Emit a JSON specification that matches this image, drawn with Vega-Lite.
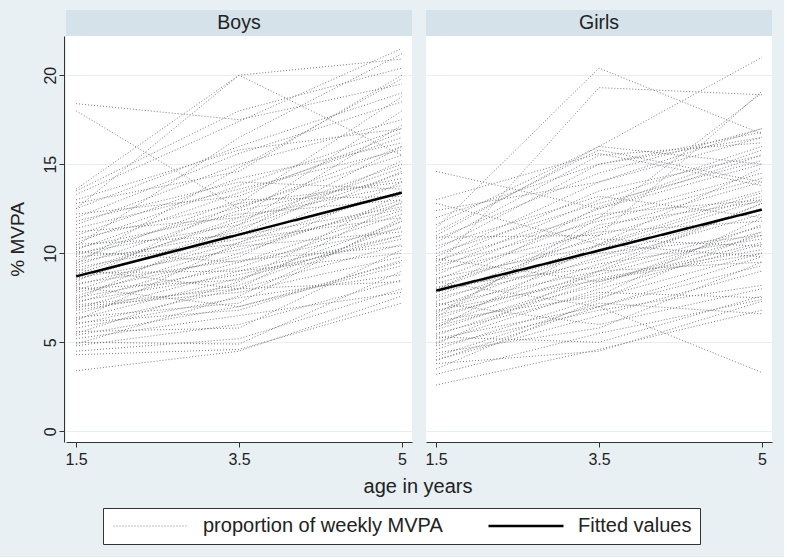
{
  "$schema": "https://vega.github.io/schema/vega-lite/v6.json",
  "background": "#E9F0F3",
  "padding": {"left": 8, "top": 10, "right": 12, "bottom": 12},
  "config": {
    "font": "Liberation Sans",
    "view": {"fill": "white", "stroke": null},
    "facet": {"spacing": 12},
    "axis": {"labelFont": "Liberation Sans", "titleFont": "Liberation Sans", "labelColor": "#222", "titleColor": "#222", "domainColor": "#333", "tickColor": "#333", "labelFontSize": 16, "titleFontSize": 19, "titleFontWeight": "normal", "tickSize": 5},
    "legend": {"orient": "none", "legendX": 37, "legendY": 472, "direction": "horizontal", "symbolType": "M-1,0H9", "symbolSize": 225, "labelFontSize": 20, "labelLimit": 0, "labelColor": "#222", "labelFont": "Liberation Sans", "fillColor": "white", "strokeColor": "#333", "padding": 8, "columnPadding": 40, "labelOffset": 72}
  },
  "data": {"values": [
    {"s":"Boys","h":1},{"s":"Girls","h":1},
    {"s":"Boys","f":1,"t":1.5,"v":8.7},{"s":"Boys","f":1,"t":3.5,"v":11.05},{"s":"Boys","f":1,"t":5,"v":13.4},
    {"s":"Girls","f":1,"t":1.5,"v":7.9},{"s":"Girls","f":1,"t":3.5,"v":10.15},{"s":"Girls","f":1,"t":5,"v":12.45},
    {"s":"Boys","i":1,"t":1.5,"v":3.4},{"s":"Boys","i":1,"t":3.5,"v":4.5},{"s":"Boys","i":1,"t":5,"v":7.6},
    {"s":"Boys","i":2,"t":1.5,"v":4.3},{"s":"Boys","i":2,"t":3.5,"v":4.6},{"s":"Boys","i":2,"t":5,"v":7.2},
    {"s":"Boys","i":3,"t":1.5,"v":4.5},{"s":"Boys","i":3,"t":3.5,"v":5.2},{"s":"Boys","i":3,"t":5,"v":8.0},
    {"s":"Boys","i":4,"t":1.5,"v":4.8},{"s":"Boys","i":4,"t":3.5,"v":6.0},{"s":"Boys","i":4,"t":5,"v":8.5},
    {"s":"Boys","i":5,"t":1.5,"v":5.0},{"s":"Boys","i":5,"t":3.5,"v":4.9},{"s":"Boys","i":5,"t":5,"v":9.0},
    {"s":"Boys","i":6,"t":1.5,"v":5.2},{"s":"Boys","i":6,"t":3.5,"v":6.5},{"s":"Boys","i":6,"t":5,"v":7.8},
    {"s":"Boys","i":7,"t":1.5,"v":5.4},{"s":"Boys","i":7,"t":3.5,"v":7.0},{"s":"Boys","i":7,"t":5,"v":9.3},
    {"s":"Boys","i":8,"t":1.5,"v":5.6},{"s":"Boys","i":8,"t":3.5,"v":5.8},{"s":"Boys","i":8,"t":5,"v":10.2},
    {"s":"Boys","i":9,"t":1.5,"v":5.8},{"s":"Boys","i":9,"t":3.5,"v":7.5},{"s":"Boys","i":9,"t":5,"v":8.8},
    {"s":"Boys","i":10,"t":1.5,"v":6.0},{"s":"Boys","i":10,"t":3.5,"v":8.0},{"s":"Boys","i":10,"t":5,"v":10.5},
    {"s":"Boys","i":11,"t":1.5,"v":6.1},{"s":"Boys","i":11,"t":3.5,"v":6.8},{"s":"Boys","i":11,"t":5,"v":9.6},
    {"s":"Boys","i":12,"t":1.5,"v":6.3},{"s":"Boys","i":12,"t":3.5,"v":8.6},{"s":"Boys","i":12,"t":5,"v":11.0},
    {"s":"Boys","i":13,"t":1.5,"v":6.4},{"s":"Boys","i":13,"t":3.5,"v":7.2},{"s":"Boys","i":13,"t":5,"v":12.0},
    {"s":"Boys","i":14,"t":1.5,"v":6.6},{"s":"Boys","i":14,"t":3.5,"v":9.0},{"s":"Boys","i":14,"t":5,"v":10.0},
    {"s":"Boys","i":15,"t":1.5,"v":6.8},{"s":"Boys","i":15,"t":3.5,"v":8.2},{"s":"Boys","i":15,"t":5,"v":11.5},
    {"s":"Boys","i":16,"t":1.5,"v":6.9},{"s":"Boys","i":16,"t":3.5,"v":9.5},{"s":"Boys","i":16,"t":5,"v":12.4},
    {"s":"Boys","i":17,"t":1.5,"v":7.0},{"s":"Boys","i":17,"t":3.5,"v":7.8},{"s":"Boys","i":17,"t":5,"v":9.8},
    {"s":"Boys","i":18,"t":1.5,"v":7.2},{"s":"Boys","i":18,"t":3.5,"v":10.0},{"s":"Boys","i":18,"t":5,"v":13.0},
    {"s":"Boys","i":19,"t":1.5,"v":7.3},{"s":"Boys","i":19,"t":3.5,"v":8.8},{"s":"Boys","i":19,"t":5,"v":10.8},
    {"s":"Boys","i":20,"t":1.5,"v":7.5},{"s":"Boys","i":20,"t":3.5,"v":9.2},{"s":"Boys","i":20,"t":5,"v":12.2},
    {"s":"Boys","i":21,"t":1.5,"v":7.6},{"s":"Boys","i":21,"t":3.5,"v":10.4},{"s":"Boys","i":21,"t":5,"v":11.2},
    {"s":"Boys","i":22,"t":1.5,"v":7.8},{"s":"Boys","i":22,"t":3.5,"v":9.8},{"s":"Boys","i":22,"t":5,"v":14.0},
    {"s":"Boys","i":23,"t":1.5,"v":7.9},{"s":"Boys","i":23,"t":3.5,"v":11.0},{"s":"Boys","i":23,"t":5,"v":12.6},
    {"s":"Boys","i":24,"t":1.5,"v":8.0},{"s":"Boys","i":24,"t":3.5,"v":8.5},{"s":"Boys","i":24,"t":5,"v":11.8},
    {"s":"Boys","i":25,"t":1.5,"v":8.2},{"s":"Boys","i":25,"t":3.5,"v":10.6},{"s":"Boys","i":25,"t":5,"v":13.5},
    {"s":"Boys","i":26,"t":1.5,"v":8.3},{"s":"Boys","i":26,"t":3.5,"v":9.6},{"s":"Boys","i":26,"t":5,"v":10.4},
    {"s":"Boys","i":27,"t":1.5,"v":8.5},{"s":"Boys","i":27,"t":3.5,"v":11.4},{"s":"Boys","i":27,"t":5,"v":14.5},
    {"s":"Boys","i":28,"t":1.5,"v":8.6},{"s":"Boys","i":28,"t":3.5,"v":10.2},{"s":"Boys","i":28,"t":5,"v":12.8},
    {"s":"Boys","i":29,"t":1.5,"v":8.8},{"s":"Boys","i":29,"t":3.5,"v":12.0},{"s":"Boys","i":29,"t":5,"v":13.8},
    {"s":"Boys","i":30,"t":1.5,"v":8.9},{"s":"Boys","i":30,"t":3.5,"v":9.0},{"s":"Boys","i":30,"t":5,"v":11.0},
    {"s":"Boys","i":31,"t":1.5,"v":9.0},{"s":"Boys","i":31,"t":3.5,"v":11.8},{"s":"Boys","i":31,"t":5,"v":15.0},
    {"s":"Boys","i":32,"t":1.5,"v":9.2},{"s":"Boys","i":32,"t":3.5,"v":10.8},{"s":"Boys","i":32,"t":5,"v":12.0},
    {"s":"Boys","i":33,"t":1.5,"v":9.3},{"s":"Boys","i":33,"t":3.5,"v":12.4},{"s":"Boys","i":33,"t":5,"v":14.2},
    {"s":"Boys","i":34,"t":1.5,"v":9.5},{"s":"Boys","i":34,"t":3.5,"v":11.2},{"s":"Boys","i":34,"t":5,"v":16.0},
    {"s":"Boys","i":35,"t":1.5,"v":9.6},{"s":"Boys","i":35,"t":3.5,"v":13.0},{"s":"Boys","i":35,"t":5,"v":13.2},
    {"s":"Boys","i":36,"t":1.5,"v":9.8},{"s":"Boys","i":36,"t":3.5,"v":10.5},{"s":"Boys","i":36,"t":5,"v":12.5},
    {"s":"Boys","i":37,"t":1.5,"v":9.9},{"s":"Boys","i":37,"t":3.5,"v":12.6},{"s":"Boys","i":37,"t":5,"v":15.5},
    {"s":"Boys","i":38,"t":1.5,"v":10.0},{"s":"Boys","i":38,"t":3.5,"v":11.6},{"s":"Boys","i":38,"t":5,"v":14.8},
    {"s":"Boys","i":39,"t":1.5,"v":10.2},{"s":"Boys","i":39,"t":3.5,"v":13.4},{"s":"Boys","i":39,"t":5,"v":16.5},
    {"s":"Boys","i":40,"t":1.5,"v":10.3},{"s":"Boys","i":40,"t":3.5,"v":12.2},{"s":"Boys","i":40,"t":5,"v":13.0},
    {"s":"Boys","i":41,"t":1.5,"v":10.5},{"s":"Boys","i":41,"t":3.5,"v":11.0},{"s":"Boys","i":41,"t":5,"v":15.2},
    {"s":"Boys","i":42,"t":1.5,"v":10.6},{"s":"Boys","i":42,"t":3.5,"v":13.8},{"s":"Boys","i":42,"t":5,"v":17.0},
    {"s":"Boys","i":43,"t":1.5,"v":10.8},{"s":"Boys","i":43,"t":3.5,"v":12.8},{"s":"Boys","i":43,"t":5,"v":14.0},
    {"s":"Boys","i":44,"t":1.5,"v":11.0},{"s":"Boys","i":44,"t":3.5,"v":14.2},{"s":"Boys","i":44,"t":5,"v":16.2},
    {"s":"Boys","i":45,"t":1.5,"v":11.2},{"s":"Boys","i":45,"t":3.5,"v":12.0},{"s":"Boys","i":45,"t":5,"v":18.0},
    {"s":"Boys","i":46,"t":1.5,"v":11.4},{"s":"Boys","i":46,"t":3.5,"v":13.6},{"s":"Boys","i":46,"t":5,"v":15.8},
    {"s":"Boys","i":47,"t":1.5,"v":11.6},{"s":"Boys","i":47,"t":3.5,"v":15.0},{"s":"Boys","i":47,"t":5,"v":17.5},
    {"s":"Boys","i":48,"t":1.5,"v":11.8},{"s":"Boys","i":48,"t":3.5,"v":14.0},{"s":"Boys","i":48,"t":5,"v":13.6},
    {"s":"Boys","i":49,"t":1.5,"v":12.0},{"s":"Boys","i":49,"t":3.5,"v":15.6},{"s":"Boys","i":49,"t":5,"v":18.5},
    {"s":"Boys","i":50,"t":1.5,"v":12.2},{"s":"Boys","i":50,"t":3.5,"v":13.2},{"s":"Boys","i":50,"t":5,"v":16.8},
    {"s":"Boys","i":51,"t":1.5,"v":12.5},{"s":"Boys","i":51,"t":3.5,"v":16.0},{"s":"Boys","i":51,"t":5,"v":19.0},
    {"s":"Boys","i":52,"t":1.5,"v":12.8},{"s":"Boys","i":52,"t":3.5,"v":14.6},{"s":"Boys","i":52,"t":5,"v":20.0},
    {"s":"Boys","i":53,"t":1.5,"v":13.0},{"s":"Boys","i":53,"t":3.5,"v":15.8},{"s":"Boys","i":53,"t":5,"v":17.0},
    {"s":"Boys","i":54,"t":1.5,"v":13.3},{"s":"Boys","i":54,"t":3.5,"v":17.4},{"s":"Boys","i":54,"t":5,"v":21.5},
    {"s":"Boys","i":55,"t":1.5,"v":13.6},{"s":"Boys","i":55,"t":3.5,"v":20.0},{"s":"Boys","i":55,"t":5,"v":15.5},
    {"s":"Boys","i":56,"t":1.5,"v":13.5},{"s":"Boys","i":56,"t":3.5,"v":18.0},{"s":"Boys","i":56,"t":5,"v":20.4},
    {"s":"Boys","i":57,"t":1.5,"v":18.4},{"s":"Boys","i":57,"t":3.5,"v":17.5},{"s":"Boys","i":57,"t":5,"v":19.5},
    {"s":"Boys","i":58,"t":1.5,"v":18.0},{"s":"Boys","i":58,"t":3.5,"v":12.5},{"s":"Boys","i":58,"t":5,"v":16.0},
    {"s":"Boys","i":59,"t":1.5,"v":12.5},{"s":"Boys","i":59,"t":3.5,"v":20.0},{"s":"Boys","i":59,"t":5,"v":20.9},
    {"s":"Boys","i":60,"t":1.5,"v":10.4},{"s":"Boys","i":60,"t":3.5,"v":16.5},{"s":"Boys","i":60,"t":5,"v":21.2},
    {"s":"Boys","i":61,"t":1.5,"v":9.4},{"s":"Boys","i":61,"t":3.5,"v":14.8},{"s":"Boys","i":61,"t":5,"v":19.8},
    {"s":"Boys","i":62,"t":1.5,"v":8.4},{"s":"Boys","i":62,"t":3.5,"v":12.8},{"s":"Boys","i":62,"t":5,"v":18.8},
    {"s":"Boys","i":63,"t":1.5,"v":7.4},{"s":"Boys","i":63,"t":3.5,"v":11.6},{"s":"Boys","i":63,"t":5,"v":17.2},
    {"s":"Boys","i":64,"t":1.5,"v":6.2},{"s":"Boys","i":64,"t":3.5,"v":10.6},{"s":"Boys","i":64,"t":5,"v":14.6},
    {"s":"Boys","i":65,"t":1.5,"v":5.5},{"s":"Boys","i":65,"t":3.5,"v":8.4},{"s":"Boys","i":65,"t":5,"v":13.4},
    {"s":"Boys","i":66,"t":1.5,"v":4.9},{"s":"Boys","i":66,"t":3.5,"v":7.6},{"s":"Boys","i":66,"t":5,"v":11.8},
    {"s":"Boys","i":67,"t":1.5,"v":7.1},{"s":"Boys","i":67,"t":3.5,"v":8.0},{"s":"Boys","i":67,"t":5,"v":8.4},
    {"s":"Boys","i":68,"t":1.5,"v":8.1},{"s":"Boys","i":68,"t":3.5,"v":7.0},{"s":"Boys","i":68,"t":5,"v":9.5},
    {"s":"Boys","i":69,"t":1.5,"v":9.1},{"s":"Boys","i":69,"t":3.5,"v":8.0},{"s":"Boys","i":69,"t":5,"v":12.9},
    {"s":"Boys","i":70,"t":1.5,"v":10.1},{"s":"Boys","i":70,"t":3.5,"v":9.5},{"s":"Boys","i":70,"t":5,"v":11.4},
    {"s":"Girls","i":101,"t":1.5,"v":2.6},{"s":"Girls","i":101,"t":3.5,"v":4.6},{"s":"Girls","i":101,"t":5,"v":6.8},
    {"s":"Girls","i":102,"t":1.5,"v":3.2},{"s":"Girls","i":102,"t":3.5,"v":5.5},{"s":"Girls","i":102,"t":5,"v":7.4},
    {"s":"Girls","i":103,"t":1.5,"v":4.0},{"s":"Girls","i":103,"t":3.5,"v":7.0},{"s":"Girls","i":103,"t":5,"v":3.3},
    {"s":"Girls","i":104,"t":1.5,"v":3.8},{"s":"Girls","i":104,"t":3.5,"v":4.5},{"s":"Girls","i":104,"t":5,"v":7.3},
    {"s":"Girls","i":105,"t":1.5,"v":4.0},{"s":"Girls","i":105,"t":3.5,"v":6.5},{"s":"Girls","i":105,"t":5,"v":9.0},
    {"s":"Girls","i":106,"t":1.5,"v":4.2},{"s":"Girls","i":106,"t":3.5,"v":7.2},{"s":"Girls","i":106,"t":5,"v":6.6},
    {"s":"Girls","i":107,"t":1.5,"v":4.4},{"s":"Girls","i":107,"t":3.5,"v":5.8},{"s":"Girls","i":107,"t":5,"v":9.5},
    {"s":"Girls","i":108,"t":1.5,"v":4.6},{"s":"Girls","i":108,"t":3.5,"v":7.5},{"s":"Girls","i":108,"t":5,"v":10.0},
    {"s":"Girls","i":109,"t":1.5,"v":4.8},{"s":"Girls","i":109,"t":3.5,"v":6.8},{"s":"Girls","i":109,"t":5,"v":8.2},
    {"s":"Girls","i":110,"t":1.5,"v":5.0},{"s":"Girls","i":110,"t":3.5,"v":8.0},{"s":"Girls","i":110,"t":5,"v":10.5},
    {"s":"Girls","i":111,"t":1.5,"v":5.2},{"s":"Girls","i":111,"t":3.5,"v":7.0},{"s":"Girls","i":111,"t":5,"v":9.8},
    {"s":"Girls","i":112,"t":1.5,"v":5.4},{"s":"Girls","i":112,"t":3.5,"v":8.4},{"s":"Girls","i":112,"t":5,"v":11.0},
    {"s":"Girls","i":113,"t":1.5,"v":5.5},{"s":"Girls","i":113,"t":3.5,"v":7.8},{"s":"Girls","i":113,"t":5,"v":7.5},
    {"s":"Girls","i":114,"t":1.5,"v":5.7},{"s":"Girls","i":114,"t":3.5,"v":8.6},{"s":"Girls","i":114,"t":5,"v":10.2},
    {"s":"Girls","i":115,"t":1.5,"v":5.9},{"s":"Girls","i":115,"t":3.5,"v":8.2},{"s":"Girls","i":115,"t":5,"v":11.6},
    {"s":"Girls","i":116,"t":1.5,"v":6.0},{"s":"Girls","i":116,"t":3.5,"v":9.0},{"s":"Girls","i":116,"t":5,"v":9.5},
    {"s":"Girls","i":117,"t":1.5,"v":6.2},{"s":"Girls","i":117,"t":3.5,"v":7.6},{"s":"Girls","i":117,"t":5,"v":12.0},
    {"s":"Girls","i":118,"t":1.5,"v":6.3},{"s":"Girls","i":118,"t":3.5,"v":9.4},{"s":"Girls","i":118,"t":5,"v":10.8},
    {"s":"Girls","i":119,"t":1.5,"v":6.5},{"s":"Girls","i":119,"t":3.5,"v":8.8},{"s":"Girls","i":119,"t":5,"v":11.2},
    {"s":"Girls","i":120,"t":1.5,"v":6.7},{"s":"Girls","i":120,"t":3.5,"v":9.8},{"s":"Girls","i":120,"t":5,"v":12.5},
    {"s":"Girls","i":121,"t":1.5,"v":6.8},{"s":"Girls","i":121,"t":3.5,"v":8.5},{"s":"Girls","i":121,"t":5,"v":10.0},
    {"s":"Girls","i":122,"t":1.5,"v":7.0},{"s":"Girls","i":122,"t":3.5,"v":10.2},{"s":"Girls","i":122,"t":5,"v":13.0},
    {"s":"Girls","i":123,"t":1.5,"v":7.1},{"s":"Girls","i":123,"t":3.5,"v":9.0},{"s":"Girls","i":123,"t":5,"v":11.5},
    {"s":"Girls","i":124,"t":1.5,"v":7.3},{"s":"Girls","i":124,"t":3.5,"v":10.5},{"s":"Girls","i":124,"t":5,"v":9.8},
    {"s":"Girls","i":125,"t":1.5,"v":7.5},{"s":"Girls","i":125,"t":3.5,"v":9.6},{"s":"Girls","i":125,"t":5,"v":12.2},
    {"s":"Girls","i":126,"t":1.5,"v":7.6},{"s":"Girls","i":126,"t":3.5,"v":11.0},{"s":"Girls","i":126,"t":5,"v":13.5},
    {"s":"Girls","i":127,"t":1.5,"v":7.8},{"s":"Girls","i":127,"t":3.5,"v":10.0},{"s":"Girls","i":127,"t":5,"v":11.0},
    {"s":"Girls","i":128,"t":1.5,"v":8.0},{"s":"Girls","i":128,"t":3.5,"v":11.4},{"s":"Girls","i":128,"t":5,"v":14.0},
    {"s":"Girls","i":129,"t":1.5,"v":8.1},{"s":"Girls","i":129,"t":3.5,"v":9.2},{"s":"Girls","i":129,"t":5,"v":12.8},
    {"s":"Girls","i":130,"t":1.5,"v":8.3},{"s":"Girls","i":130,"t":3.5,"v":10.8},{"s":"Girls","i":130,"t":5,"v":10.4},
    {"s":"Girls","i":131,"t":1.5,"v":8.5},{"s":"Girls","i":131,"t":3.5,"v":12.0},{"s":"Girls","i":131,"t":5,"v":14.5},
    {"s":"Girls","i":132,"t":1.5,"v":8.6},{"s":"Girls","i":132,"t":3.5,"v":10.4},{"s":"Girls","i":132,"t":5,"v":13.2},
    {"s":"Girls","i":133,"t":1.5,"v":8.8},{"s":"Girls","i":133,"t":3.5,"v":12.5},{"s":"Girls","i":133,"t":5,"v":15.0},
    {"s":"Girls","i":134,"t":1.5,"v":9.0},{"s":"Girls","i":134,"t":3.5,"v":11.2},{"s":"Girls","i":134,"t":5,"v":11.8},
    {"s":"Girls","i":135,"t":1.5,"v":9.1},{"s":"Girls","i":135,"t":3.5,"v":13.0},{"s":"Girls","i":135,"t":5,"v":16.0},
    {"s":"Girls","i":136,"t":1.5,"v":9.3},{"s":"Girls","i":136,"t":3.5,"v":11.8},{"s":"Girls","i":136,"t":5,"v":14.2},
    {"s":"Girls","i":137,"t":1.5,"v":9.5},{"s":"Girls","i":137,"t":3.5,"v":13.5},{"s":"Girls","i":137,"t":5,"v":15.5},
    {"s":"Girls","i":138,"t":1.5,"v":9.6},{"s":"Girls","i":138,"t":3.5,"v":12.2},{"s":"Girls","i":138,"t":5,"v":13.0},
    {"s":"Girls","i":139,"t":1.5,"v":9.8},{"s":"Girls","i":139,"t":3.5,"v":14.0},{"s":"Girls","i":139,"t":5,"v":16.5},
    {"s":"Girls","i":140,"t":1.5,"v":10.0},{"s":"Girls","i":140,"t":3.5,"v":12.8},{"s":"Girls","i":140,"t":5,"v":15.2},
    {"s":"Girls","i":141,"t":1.5,"v":10.2},{"s":"Girls","i":141,"t":3.5,"v":15.0},{"s":"Girls","i":141,"t":5,"v":16.8},
    {"s":"Girls","i":142,"t":1.5,"v":10.4},{"s":"Girls","i":142,"t":3.5,"v":13.2},{"s":"Girls","i":142,"t":5,"v":12.0},
    {"s":"Girls","i":143,"t":1.5,"v":10.6},{"s":"Girls","i":143,"t":3.5,"v":15.5},{"s":"Girls","i":143,"t":5,"v":16.2},
    {"s":"Girls","i":144,"t":1.5,"v":10.8},{"s":"Girls","i":144,"t":3.5,"v":14.5},{"s":"Girls","i":144,"t":5,"v":17.0},
    {"s":"Girls","i":145,"t":1.5,"v":11.0},{"s":"Girls","i":145,"t":3.5,"v":16.0},{"s":"Girls","i":145,"t":5,"v":15.0},
    {"s":"Girls","i":146,"t":1.5,"v":11.4},{"s":"Girls","i":146,"t":3.5,"v":20.4},{"s":"Girls","i":146,"t":5,"v":16.7},
    {"s":"Girls","i":147,"t":1.5,"v":9.2},{"s":"Girls","i":147,"t":3.5,"v":19.3},{"s":"Girls","i":147,"t":5,"v":18.9},
    {"s":"Girls","i":148,"t":1.5,"v":11.2},{"s":"Girls","i":148,"t":3.5,"v":15.8},{"s":"Girls","i":148,"t":5,"v":14.0},
    {"s":"Girls","i":149,"t":1.5,"v":11.6},{"s":"Girls","i":149,"t":3.5,"v":16.0},{"s":"Girls","i":149,"t":5,"v":21.0},
    {"s":"Girls","i":150,"t":1.5,"v":12.0},{"s":"Girls","i":150,"t":3.5,"v":15.0},{"s":"Girls","i":150,"t":5,"v":16.5},
    {"s":"Girls","i":151,"t":1.5,"v":12.4},{"s":"Girls","i":151,"t":3.5,"v":14.0},{"s":"Girls","i":151,"t":5,"v":17.0},
    {"s":"Girls","i":152,"t":1.5,"v":13.0},{"s":"Girls","i":152,"t":3.5,"v":15.6},{"s":"Girls","i":152,"t":5,"v":13.8},
    {"s":"Girls","i":153,"t":1.5,"v":14.6},{"s":"Girls","i":153,"t":3.5,"v":12.5},{"s":"Girls","i":153,"t":5,"v":15.5},
    {"s":"Girls","i":154,"t":1.5,"v":12.8},{"s":"Girls","i":154,"t":3.5,"v":10.5},{"s":"Girls","i":154,"t":5,"v":13.4},
    {"s":"Girls","i":155,"t":1.5,"v":6.4},{"s":"Girls","i":155,"t":3.5,"v":12.0},{"s":"Girls","i":155,"t":5,"v":19.0},
    {"s":"Girls","i":156,"t":1.5,"v":5.8},{"s":"Girls","i":156,"t":3.5,"v":10.5},{"s":"Girls","i":156,"t":5,"v":14.8},
    {"s":"Girls","i":157,"t":1.5,"v":4.9},{"s":"Girls","i":157,"t":3.5,"v":9.0},{"s":"Girls","i":157,"t":5,"v":12.8},
    {"s":"Girls","i":158,"t":1.5,"v":3.5},{"s":"Girls","i":158,"t":3.5,"v":7.4},{"s":"Girls","i":158,"t":5,"v":11.2},
    {"s":"Girls","i":159,"t":1.5,"v":7.2},{"s":"Girls","i":159,"t":3.5,"v":6.0},{"s":"Girls","i":159,"t":5,"v":8.0},
    {"s":"Girls","i":160,"t":1.5,"v":8.4},{"s":"Girls","i":160,"t":3.5,"v":7.0},{"s":"Girls","i":160,"t":5,"v":9.3},
    {"s":"Girls","i":161,"t":1.5,"v":5.3},{"s":"Girls","i":161,"t":3.5,"v":5.0},{"s":"Girls","i":161,"t":5,"v":7.6},
    {"s":"Girls","i":162,"t":1.5,"v":9.7},{"s":"Girls","i":162,"t":3.5,"v":8.4},{"s":"Girls","i":162,"t":5,"v":10.6},
    {"s":"Girls","i":163,"t":1.5,"v":6.6},{"s":"Girls","i":163,"t":3.5,"v":11.6},{"s":"Girls","i":163,"t":5,"v":12.9},
    {"s":"Girls","i":164,"t":1.5,"v":7.9},{"s":"Girls","i":164,"t":3.5,"v":12.6},{"s":"Girls","i":164,"t":5,"v":15.8},
    {"s":"Girls","i":165,"t":1.5,"v":10.9},{"s":"Girls","i":165,"t":3.5,"v":11.0},{"s":"Girls","i":165,"t":5,"v":19.1}
  ]},
  "facet": {
    "column": {
      "field": "s", "type": "nominal", "sort": ["Boys", "Girls"],
      "header": {"title": "age in years", "titleOrient": "bottom", "titleFontSize": 20, "titleFontWeight": "normal", "titleColor": "#222", "titlePadding": 0, "labels": false}
    }
  },
  "spec": {
    "width": 346,
    "height": 406,
    "layer": [
      {
        "transform": [{"filter": "datum.h"}],
        "mark": {"type": "rect", "color": "#D6E2EA"},
        "encoding": {
          "y": {"datum": 22.2, "type": "quantitative"},
          "y2": {"datum": 23.66}
        }
      },
      {
        "transform": [{"filter": "datum.h"}],
        "mark": {"type": "text", "fontSize": 19.5, "color": "#222", "baseline": "middle", "align": "center"},
        "encoding": {
          "y": {"datum": 22.93, "type": "quantitative"},
          "text": {"field": "s"}
        }
      },
      {
        "transform": [{"filter": "datum.i"}],
        "mark": {"type": "line", "strokeCap": "butt"},
        "encoding": {
          "x": {"field": "t", "type": "ordinal", "scale": {"type": "point", "padding": 0.062}, "axis": {"title": null, "labelAngle": 0, "grid": false, "labelPadding": 4}},
          "y": {"field": "v", "type": "quantitative", "scale": {"domain": [-0.6, 22.2], "nice": false, "zero": false}, "axis": {"title": "% MVPA", "values": [0, 5, 10, 15, 20], "labelAngle": -90, "labelAlign": "center", "labelBaseline": "bottom", "labelPadding": 1, "titlePadding": 15, "grid": true, "gridColor": "#E6EEF1", "gridWidth": 1.2}},
          "detail": {"field": "i"},
          "color": {"datum": "proportion of weekly MVPA", "scale": {"domain": ["proportion of weekly MVPA", "Fitted values"], "range": ["#7a7a7a", "#000000"]}, "legend": {"title": null}},
          "strokeDash": {"datum": "proportion of weekly MVPA", "scale": {"domain": ["proportion of weekly MVPA", "Fitted values"], "range": [[1, 2], [1, 0]]}, "legend": {"title": null}},
          "strokeWidth": {"datum": "proportion of weekly MVPA", "type": "nominal", "scale": {"domain": ["proportion of weekly MVPA", "Fitted values"], "range": [1, 2.5]}, "legend": {"title": null}}
        }
      },
      {
        "transform": [{"filter": "datum.f"}],
        "mark": {"type": "line"},
        "encoding": {
          "x": {"field": "t", "type": "ordinal"},
          "y": {"field": "v", "type": "quantitative"},
          "color": {"datum": "Fitted values"},
          "strokeDash": {"datum": "Fitted values"},
          "strokeWidth": {"datum": "Fitted values", "type": "nominal"}
        }
      }
    ]
  },
  "resolve": {"axis": {"x": "independent"}}
}
